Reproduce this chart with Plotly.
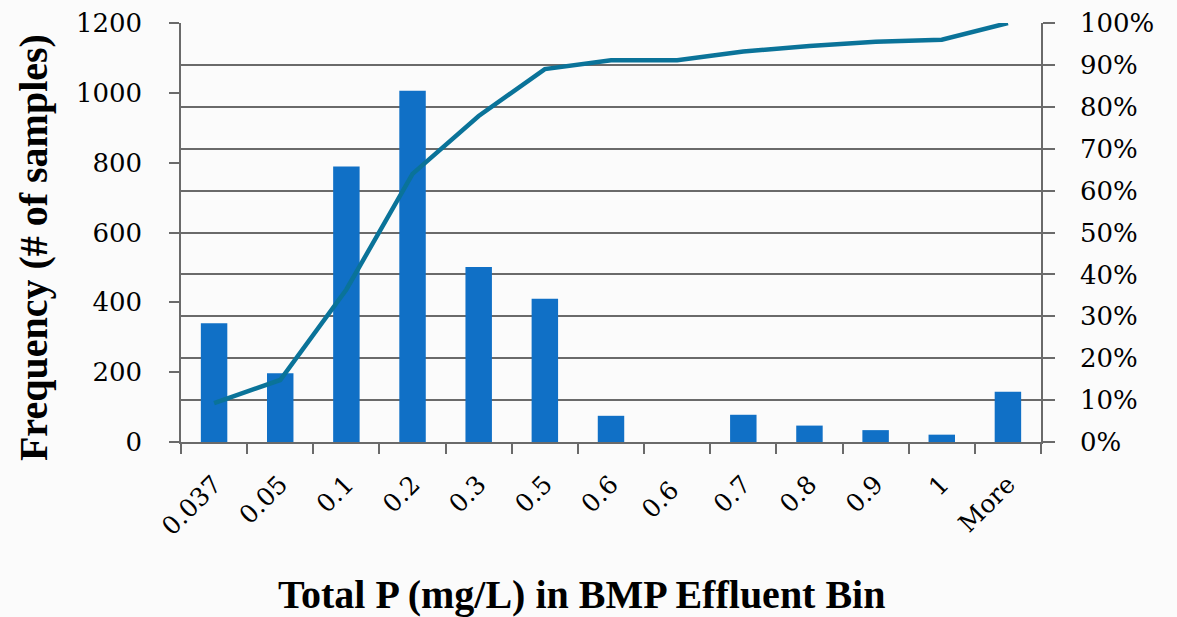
import plotly.graph_objects as go

bins = ["0.037", "0.05", "0.1", "0.2", "0.3", "0.5", "0.6", "0.6 ", "0.7", "0.8", "0.9", "1", "More"]
frequency = [340, 197, 789, 1006, 501, 410, 75, 0, 78, 47, 34, 21, 144]
cumulative_pct = [0.093, 0.148, 0.364, 0.640, 0.778, 0.890, 0.911, 0.911, 0.932, 0.945, 0.955, 0.960, 1.0]
left_ticks = [0, 200, 400, 600, 800, 1000, 1200]

BAR = "#1070C6"
LINE = "#0A7399"
GRID = "#6A6A6A"
FONT = "DejaVu Serif"
TITLE_FONT = "Liberation Serif"

fig = go.Figure()
fig.add_trace(go.Bar(x=bins, y=frequency, marker=dict(color=BAR, line=dict(width=0)),
                     yaxis="y", showlegend=False))
fig.add_trace(go.Scatter(x=bins, y=cumulative_pct, mode="lines", yaxis="y2",
                         line=dict(color=LINE, width=4.5), cliponaxis=False, showlegend=False))

fig.update_layout(
    width=1177, height=617,
    margin=dict(l=181, r=136, t=23, b=175),
    paper_bgcolor="#FBFBFB", plot_bgcolor="#FBFBFB",
    bargap=0.6,
    font=dict(family=FONT, color="#000000", size=26),
    xaxis=dict(
        type="category", tickson="boundaries", ticks="outside", ticklen=10,
        tickcolor=GRID, tickwidth=1.5, showline=True, linecolor=GRID, linewidth=1.5,
        tickangle=-45, tickfont=dict(family=FONT, size=25), showgrid=False,
        ticklabelstandoff=16, automargin=False,
    ),
    yaxis=dict(
        range=[0, 1200], tickvals=left_ticks, ticks="outside", ticklen=10,
        tickcolor=GRID, tickwidth=1.5, showline=True, linecolor=GRID, linewidth=1.5,
        showgrid=False, zeroline=False, tickfont=dict(family=FONT, size=26),
        ticklabelstandoff=22, automargin=False,
    ),
    yaxis2=dict(
        range=[0, 1], dtick=0.1, tickformat=".0%", overlaying="y", side="right",
        ticks="outside", ticklen=12, tickcolor=GRID, tickwidth=1.5,
        showline=True, linecolor=GRID, linewidth=1.5,
        showgrid=True, gridcolor=GRID, gridwidth=1.5, zeroline=False,
        tickfont=dict(family=FONT, size=26), ticklabelstandoff=20, automargin=False,
    ),
    annotations=[
        dict(text="<b>Total P (mg/L) in BMP Effluent Bin</b>", xref="paper", yref="paper",
             x=0.466, y=-0.365, xanchor="center", yanchor="middle", showarrow=False,
             font=dict(family=TITLE_FONT, size=40, color="#000000")),
        dict(text="<b>Frequency (# of samples)</b>", xref="paper", yref="paper",
             x=-0.172, y=0.463, xanchor="center", yanchor="middle", showarrow=False,
             textangle=-90, font=dict(family=TITLE_FONT, size=40, color="#000000")),
    ],
)

fig.write_html("out.html")
